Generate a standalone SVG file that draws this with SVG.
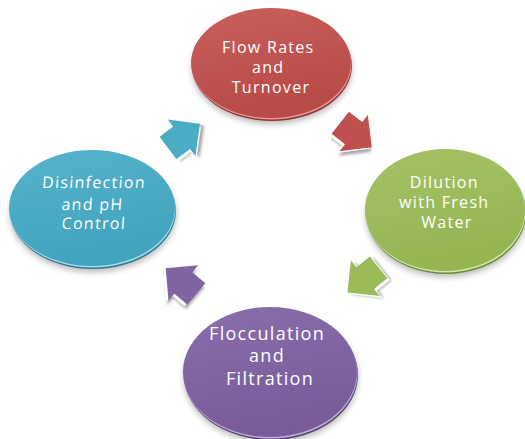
<svg xmlns="http://www.w3.org/2000/svg" xmlns:xlink="http://www.w3.org/1999/xlink" width="525" height="439" viewBox="0 0 525 439">
  <style>
    .lbl { font-family: "Open Sans", "Liberation Sans", sans-serif; font-size: 16px; letter-spacing: 1.3px; fill: #ffffff; text-anchor: middle; }
    .big { font-size: 18px; letter-spacing: 1.3px; }
    .shadow { fill: #000000; opacity: 0.28; filter: url(#soft); }
    .ashadow { fill: #555555; opacity: 0.55; filter: url(#softs); }
    .aside { fill: #ffffff; }
  </style>
  <defs>
    <filter id="soft" x="-20%" y="-20%" width="140%" height="140%">
      <feGaussianBlur stdDeviation="3"/>
    </filter>
    <filter id="softs" x="-30%" y="-30%" width="160%" height="160%">
      <feGaussianBlur stdDeviation="1.5"/>
    </filter>
    <!-- block arrow pointing along +x, centred on the origin -->
    <path id="arw" d="M-20,-14 L-3,-14 L-3,-23 L20,0 L-3,23 L-3,14 L-20,14 Z"/>
    <linearGradient id="gRed" x1="0" y1="0" x2="0.3" y2="1">
      <stop offset="0" stop-color="#c95f5c"/>
      <stop offset="1" stop-color="#b84a47"/>
    </linearGradient>
    <linearGradient id="gGreen" x1="0" y1="0" x2="0.3" y2="1">
      <stop offset="0" stop-color="#a5c266"/>
      <stop offset="1" stop-color="#94b552"/>
    </linearGradient>
    <linearGradient id="gPurple" x1="0" y1="0" x2="0.3" y2="1">
      <stop offset="0" stop-color="#8a6eab"/>
      <stop offset="1" stop-color="#785c9a"/>
    </linearGradient>
    <linearGradient id="gTeal" x1="0" y1="0" x2="0.3" y2="1">
      <stop offset="0" stop-color="#55b3cb"/>
      <stop offset="1" stop-color="#43a3bd"/>
    </linearGradient>
  </defs>

  <rect width="525" height="439" fill="#ffffff"/>

  <!-- connectors: cycle arrows -->
  <g id="connectors">
    <g transform="translate(356,135) rotate(38)">
      <use xlink:href="#arw" class="ashadow" transform="translate(2,4)"/>
      <use xlink:href="#arw" class="aside" transform="translate(-1,3)"/>
      <use xlink:href="#arw" fill="#c0504d"/>
    </g>
    <g transform="translate(363,280) rotate(141)">
      <use xlink:href="#arw" class="ashadow" transform="translate(-2,-4)"/>
      <use xlink:href="#arw" class="aside" transform="translate(-1,-3)"/>
      <use xlink:href="#arw" fill="#9bbb59"/>
    </g>
    <g transform="translate(181,281) rotate(-140)">
      <use xlink:href="#arw" class="ashadow" transform="translate(-2,-4)"/>
      <use xlink:href="#arw" class="aside" transform="translate(1,-3)"/>
      <use xlink:href="#arw" fill="#8064a2"/>
    </g>
    <g transform="translate(184,136) rotate(-37)">
      <use xlink:href="#arw" class="ashadow" transform="translate(2,4)"/>
      <use xlink:href="#arw" class="aside" transform="translate(-1,3)"/>
      <use xlink:href="#arw" fill="#4bacc6"/>
    </g>
  </g>

  <!-- Flow Rates and Turnover -->
  <g id="node-flow">
    <ellipse class="shadow" cx="272" cy="69" rx="80" ry="55"/>
    <ellipse cx="272" cy="66" rx="80" ry="55" fill="#8e3432"/>
    <ellipse cx="271.5" cy="64.5" rx="80" ry="55" fill="#e39a98"/>
    <ellipse cx="271" cy="63" rx="80" ry="55" fill="url(#gRed)"/>
    <text class="lbl">
      <tspan x="271" y="52.5">Flow Rates</tspan>
      <tspan x="271" y="72.5">and</tspan>
      <tspan x="271" y="92.5">Turnover</tspan>
    </text>
  </g>

  <!-- Dilution with Fresh Water -->
  <g id="node-dilution">
    <ellipse class="shadow" cx="446" cy="216" rx="80" ry="61"/>
    <ellipse cx="446" cy="213" rx="80" ry="61" fill="#6e8a36"/>
    <ellipse cx="445.5" cy="211.5" rx="80" ry="61" fill="#d3e6ab"/>
    <ellipse cx="445" cy="210" rx="80" ry="61" fill="url(#gGreen)"/>
    <text class="lbl">
      <tspan x="447" y="188">Dilution</tspan>
      <tspan x="447" y="208">with Fresh</tspan>
      <tspan x="447" y="228">Water</tspan>
    </text>
  </g>

  <!-- Flocculation and Filtration -->
  <g id="node-flocculation">
    <ellipse class="shadow" cx="271" cy="378" rx="87" ry="65"/>
    <ellipse cx="271" cy="375" rx="87" ry="65" fill="#563f73"/>
    <ellipse cx="270.5" cy="373.5" rx="87" ry="65" fill="#c2b0d8"/>
    <ellipse cx="270" cy="372" rx="87" ry="65" fill="url(#gPurple)"/>
    <text class="lbl big">
      <tspan x="270" y="340">Flocculation</tspan>
      <tspan x="270" y="362">and</tspan>
      <tspan x="270" y="385">Filtration</tspan>
    </text>
  </g>

  <!-- Disinfection and pH Control -->
  <g id="node-disinfection">
    <ellipse class="shadow" cx="93" cy="214" rx="83" ry="58"/>
    <ellipse cx="93" cy="211" rx="83" ry="58" fill="#2a7a90"/>
    <ellipse cx="92.5" cy="209.5" rx="83" ry="58" fill="#a8dcea"/>
    <ellipse cx="92" cy="208" rx="83" ry="58" fill="url(#gTeal)"/>
    <g transform="translate(95,208) skewX(-4)">
      <text class="lbl">
        <tspan x="0" y="-20">Disinfection</tspan>
        <tspan x="0" y="2">and pH</tspan>
        <tspan x="0" y="21">Control</tspan>
      </text>
    </g>
  </g>
</svg>
